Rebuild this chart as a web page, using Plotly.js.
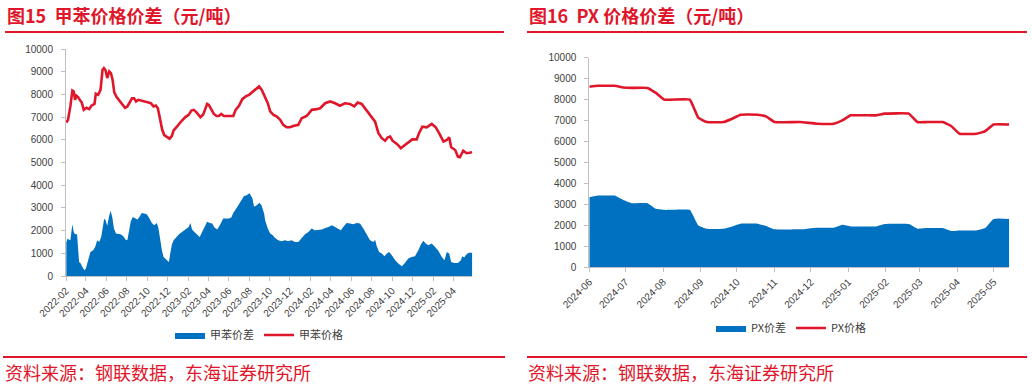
<!DOCTYPE html>
<html>
<head>
<meta charset="utf-8">
<script src="https://cdn.plot.ly/plotly-3.0.1.min.js"></script>
<style>html,body{margin:0;padding:0;background:#fff;}#chart{width:1032px;height:386px;}</style>
</head>
<body>
<div id="chart"></div>
<script>
// ---------- 图15 甲苯 ----------
const tolPriceDates = ['2022-02-02','2022-02-07','2022-02-14','2022-02-20','2022-02-24','2022-02-28','2022-03-04','2022-03-09','2022-03-14','2022-03-20','2022-03-26','2022-04-03','2022-04-11','2022-04-18','2022-04-27','2022-05-01','2022-05-08','2022-05-15','2022-05-21','2022-05-25','2022-05-30','2022-06-04','2022-06-10','2022-06-15','2022-06-20','2022-06-25','2022-07-02','2022-07-12','2022-07-20','2022-07-27','2022-08-03','2022-08-11','2022-08-17','2022-08-23','2022-08-29','2022-09-05','2022-09-15','2022-09-25','2022-10-05','2022-10-12','2022-10-20','2022-10-27','2022-11-02','2022-11-09','2022-11-15','2022-11-21','2022-11-29','2022-12-07','2022-12-14','2022-12-19','2022-12-27','2023-01-04','2023-01-13','2023-01-23','2023-02-02','2023-02-10','2023-02-17','2023-02-24','2023-03-03','2023-03-09','2023-03-17','2023-03-24','2023-03-29','2023-04-03','2023-04-10','2023-04-18','2023-04-26','2023-05-03','2023-05-10','2023-05-18','2023-05-28','2023-06-07','2023-06-15','2023-06-22','2023-07-02','2023-07-12','2023-07-22','2023-08-01','2023-08-11','2023-08-21','2023-08-31','2023-09-08','2023-09-17','2023-09-26','2023-10-03','2023-10-13','2023-10-23','2023-11-02','2023-11-11','2023-11-21','2023-12-01','2023-12-11','2023-12-26','2024-01-05','2024-01-20','2024-02-04','2024-02-19','2024-02-29','2024-03-15','2024-03-30','2024-04-14','2024-04-28','2024-05-13','2024-05-28','2024-06-10','2024-06-20','2024-07-02','2024-07-12','2024-07-27','2024-08-11','2024-08-21','2024-08-31','2024-09-10','2024-09-18','2024-09-25','2024-10-02','2024-10-15','2024-10-27','2024-11-08','2024-11-20','2024-11-30','2024-12-13','2024-12-20','2024-12-30','2025-01-12','2025-01-27','2025-02-08','2025-02-18','2025-03-03','2025-03-13','2025-03-20','2025-03-26','2025-04-07','2025-04-15','2025-04-21','2025-05-01','2025-05-11','2025-05-28'];
const tolPrice = [6760,6880,7470,8170,8130,7760,7940,7880,7760,7640,7320,7410,7350,7500,7580,8030,7980,8200,9090,9160,9060,8720,9010,8940,8640,8090,7880,7670,7540,7410,7470,7690,7830,7830,7690,7760,7730,7700,7640,7610,7470,7510,7390,6880,6440,6210,6110,6050,6170,6410,6550,6700,6850,7000,7100,7290,7320,7230,7080,7000,7100,7390,7580,7540,7320,7140,7050,7050,7140,7050,7050,7050,7050,7320,7500,7790,7910,7980,8090,8230,8350,8200,7910,7610,7250,7100,7020,6880,6660,6550,6550,6610,6660,6950,7050,7320,7350,7390,7610,7690,7610,7500,7610,7580,7470,7640,7580,7390,7100,6800,6290,6070,5960,6110,6140,5960,5820,5630,5770,5920,6020,6020,6290,6580,6550,6700,6550,6290,5920,5990,6110,5670,5550,5260,5230,5520,5410,5450];

const tolSpreadDates = ['2022-02-02','2022-02-06','2022-02-10','2022-02-14','2022-02-20','2022-02-24','2022-02-28','2022-03-06','2022-03-12','2022-03-16','2022-03-22','2022-03-28','2022-04-01','2022-04-08','2022-04-15','2022-04-23','2022-04-29','2022-05-05','2022-05-11','2022-05-17','2022-05-21','2022-05-26','2022-05-30','2022-06-04','2022-06-09','2022-06-14','2022-06-19','2022-06-24','2022-06-30','2022-07-07','2022-07-14','2022-07-22','2022-07-29','2022-08-03','2022-08-08','2022-08-13','2022-08-19','2022-08-26','2022-09-02','2022-09-08','2022-09-15','2022-09-22','2022-09-30','2022-10-08','2022-10-15','2022-10-22','2022-10-30','2022-11-04','2022-11-09','2022-11-14','2022-11-19','2022-11-27','2022-12-05','2022-12-09','2022-12-14','2022-12-19','2022-12-27','2023-01-04','2023-01-13','2023-01-23','2023-02-02','2023-02-07','2023-02-12','2023-02-19','2023-02-27','2023-03-07','2023-03-14','2023-03-21','2023-03-29','2023-04-06','2023-04-13','2023-04-20','2023-04-28','2023-05-06','2023-05-16','2023-05-25','2023-06-02','2023-06-09','2023-06-15','2023-06-24','2023-07-02','2023-07-10','2023-07-17','2023-07-25','2023-08-02','2023-08-06','2023-08-11','2023-08-16','2023-08-24','2023-09-01','2023-09-07','2023-09-15','2023-09-18','2023-09-26','2023-10-03','2023-10-11','2023-10-17','2023-10-27','2023-11-06','2023-11-16','2023-11-26','2023-12-06','2023-12-16','2023-12-26','2024-01-05','2024-01-15','2024-01-25','2024-02-04','2024-02-13','2024-02-23','2024-03-05','2024-03-15','2024-03-25','2024-04-04','2024-04-14','2024-04-23','2024-05-01','2024-05-08','2024-05-18','2024-05-28','2024-06-07','2024-06-17','2024-06-27','2024-07-07','2024-07-17','2024-07-27','2024-08-06','2024-08-11','2024-08-16','2024-08-23','2024-08-31','2024-09-08','2024-09-15','2024-09-22','2024-09-30','2024-10-10','2024-10-20','2024-10-30','2024-11-08','2024-11-18','2024-11-28','2024-12-08','2024-12-18','2024-12-26','2025-01-02','2025-01-09','2025-01-17','2025-01-27','2025-02-06','2025-02-16','2025-02-26','2025-03-06','2025-03-13','2025-03-20','2025-03-26','2025-04-04','2025-04-15','2025-04-24','2025-04-28','2025-05-04','2025-05-11','2025-05-18','2025-05-28'];
const tolSpread = [1500,1650,1600,1580,2280,1940,1840,1840,620,570,400,250,320,690,1060,1130,1280,1580,1500,1720,2160,2530,2460,2210,2600,2870,2600,2090,1870,1840,1840,1750,1600,1580,2020,2390,2600,2530,2490,2600,2780,2750,2720,2530,2340,2240,2340,2090,1580,1130,840,720,620,990,1400,1580,1720,1840,1940,2050,2160,2340,2050,1940,1840,1720,1940,2140,2390,2340,2310,2140,2050,2240,2530,2530,2530,2580,2780,2970,3170,3310,3520,3560,3640,3560,3420,3050,3120,3230,3120,2750,2460,2090,1870,1800,1690,1580,1530,1580,1530,1580,1500,1500,1690,1840,1940,2090,2020,2050,2050,2120,2160,2240,2160,2090,2020,2160,2340,2310,2280,2340,2310,2090,1800,1580,1500,1600,1310,1060,990,870,990,1060,910,690,540,430,570,770,840,870,1130,1400,1550,1430,1350,1430,1280,1100,840,690,1060,990,620,570,570,690,870,810,960,1020,1020];

// ---------- 图16 PX ----------
const pxDates = ['2024-06-01','2024-06-08','2024-06-22','2024-06-29','2024-07-06','2024-07-19','2024-07-26','2024-08-02','2024-08-23','2024-08-30','2024-09-06','2024-09-20','2024-09-27','2024-10-04','2024-10-18','2024-10-25','2024-11-01','2024-11-22','2024-12-06','2024-12-20','2024-12-27','2025-01-03','2025-01-24','2025-01-31','2025-02-20','2025-02-27','2025-03-07','2025-03-20','2025-03-27','2025-04-03','2025-04-17','2025-04-24','2025-05-01','2025-05-14'];
const pxPrice = [8610,8660,8660,8580,8560,8560,8320,8000,8000,7140,6930,6930,7090,7280,7280,7200,6930,6930,6850,6850,7010,7250,7250,7330,7330,6930,6930,6930,6740,6370,6370,6490,6810,6810];
const pxSpread = [3340,3420,3420,3210,3060,3060,2790,2740,2740,2000,1840,1840,1950,2080,2080,1970,1810,1810,1890,1890,2030,1950,1950,2060,2060,1840,1870,1870,1730,1760,1760,1870,2310,2310];

const yTicks = [0,1000,2000,3000,4000,5000,6000,7000,8000,9000,10000];
const yTickText = ['0','1000','2000','3000','4000','5000','6000','7000','8000','9000','10000'];

const RED = '#E0162B', BLUE = '#0070C0', AXIS = '#BFBFBF', TXT = '#404040';
const W = 1032, H = 386;
const px = v => v / W, py = v => 1 - v / H;
const tickFont = {family: 'Liberation Sans, Arial, sans-serif', size: 10, color: TXT};

const traces = [
  {x: tolSpreadDates, y: tolSpread, type: 'scatter', mode: 'lines', name: '甲苯价差',
   fill: 'tozeroy', fillcolor: BLUE, line: {width: 0, color: BLUE}, xaxis: 'x', yaxis: 'y', legend: 'legend'},
  {x: tolPriceDates, y: tolPrice, type: 'scatter', mode: 'lines', name: '甲苯价格',
   line: {width: 2.6, color: RED}, xaxis: 'x', yaxis: 'y', legend: 'legend'},
  {x: pxDates, y: pxSpread, type: 'scatter', mode: 'lines', name: 'PX价差',
   fill: 'tozeroy', fillcolor: BLUE, line: {width: 0, color: BLUE, shape: 'spline', smoothing: 0.3}, xaxis: 'x2', yaxis: 'y2', legend: 'legend2'},
  {x: pxDates, y: pxPrice, type: 'scatter', mode: 'lines', name: 'PX价格',
   line: {width: 2.6, color: RED, shape: 'spline', smoothing: 0.3}, xaxis: 'x2', yaxis: 'y2', legend: 'legend2'}
];

const xCommon = {type: 'date', tickformat: '%Y-%m', tickangle: -45, showline: true, linecolor: AXIS, linewidth: 1,
  ticks: 'outside', ticklen: 4, tickcolor: AXIS, showgrid: false, zeroline: false, tickfont: tickFont, fixedrange: true};
const yCommon = {range: [0, 10000], tickvals: yTicks, ticktext: yTickText, showline: true, linecolor: AXIS, linewidth: 1,
  ticks: 'outside', ticklen: 4, tickcolor: AXIS, showgrid: false, zeroline: false, tickfont: tickFont,
  ticklabelstandoff: 6, fixedrange: true};

const titleFont = {family: 'Noto Sans CJK SC, sans-serif', size: 18, color: RED, weight: 'bold'};
const srcFont = {family: 'Noto Sans CJK SC, sans-serif', size: 18, color: RED};

const layout = {
  width: W, height: H, margin: {l: 0, r: 0, t: 0, b: 0},
  paper_bgcolor: '#fff', plot_bgcolor: '#fff', showlegend: true,
  xaxis: Object.assign({}, xCommon, {domain: [px(66), px(472.3)], anchor: 'y',
    range: ['2022-02-01', '2025-05-28'], tick0: '2022-02-01', dtick: 'M2'}),
  yaxis: Object.assign({}, yCommon, {domain: [py(276), py(49)], anchor: 'x'}),
  xaxis2: Object.assign({}, xCommon, {domain: [px(589.3), px(1009.3)], anchor: 'y2',
    range: ['2024-06-01', '2025-05-14'], tick0: '2024-06-01', dtick: 'M1'}),
  yaxis2: Object.assign({}, yCommon, {domain: [py(267.3), py(57.7)], anchor: 'x2'}),
  legend: {orientation: 'h', x: px(259), xanchor: 'center', y: py(335), yanchor: 'middle',
    font: {family: 'Noto Sans CJK SC, sans-serif', size: 11, color: TXT}, bgcolor: 'rgba(0,0,0,0)', traceorder: 'normal'},
  legend2: {orientation: 'h', x: px(791), xanchor: 'center', y: py(328), yanchor: 'middle',
    font: {family: 'Noto Sans CJK SC, sans-serif', size: 11, color: TXT}, bgcolor: 'rgba(0,0,0,0)', traceorder: 'normal'},
  annotations: [
    {text: '图15  甲苯价格价差（元/吨）', xref: 'paper', yref: 'paper', x: px(5), y: py(15), xanchor: 'left', yanchor: 'middle', showarrow: false, font: titleFont},
    {text: '图16  PX 价格价差（元/吨）', xref: 'paper', yref: 'paper', x: px(527), y: py(15), xanchor: 'left', yanchor: 'middle', showarrow: false, font: titleFont},
    {text: '资料来源：钢联数据，东海证券研究所', xref: 'paper', yref: 'paper', x: px(3), y: py(372), xanchor: 'left', yanchor: 'middle', showarrow: false, font: srcFont},
    {text: '资料来源：钢联数据，东海证券研究所', xref: 'paper', yref: 'paper', x: px(526), y: py(372), xanchor: 'left', yanchor: 'middle', showarrow: false, font: srcFont}
  ],
  shapes: [
    {type: 'line', xref: 'paper', yref: 'paper', x0: px(5), x1: px(504), y0: py(32), y1: py(32), line: {color: RED, width: 2}},
    {type: 'line', xref: 'paper', yref: 'paper', x0: px(527), x1: px(1027), y0: py(32), y1: py(32), line: {color: RED, width: 2}},
    {type: 'line', xref: 'paper', yref: 'paper', x0: px(3), x1: px(505), y0: py(357), y1: py(357), line: {color: RED, width: 2}},
    {type: 'line', xref: 'paper', yref: 'paper', x0: px(527), x1: px(1027), y0: py(357), y1: py(357), line: {color: RED, width: 2}}
  ]
};

Plotly.newPlot('chart', traces, layout, {displayModeBar: false, staticPlot: true});
</script>
</body>
</html>
